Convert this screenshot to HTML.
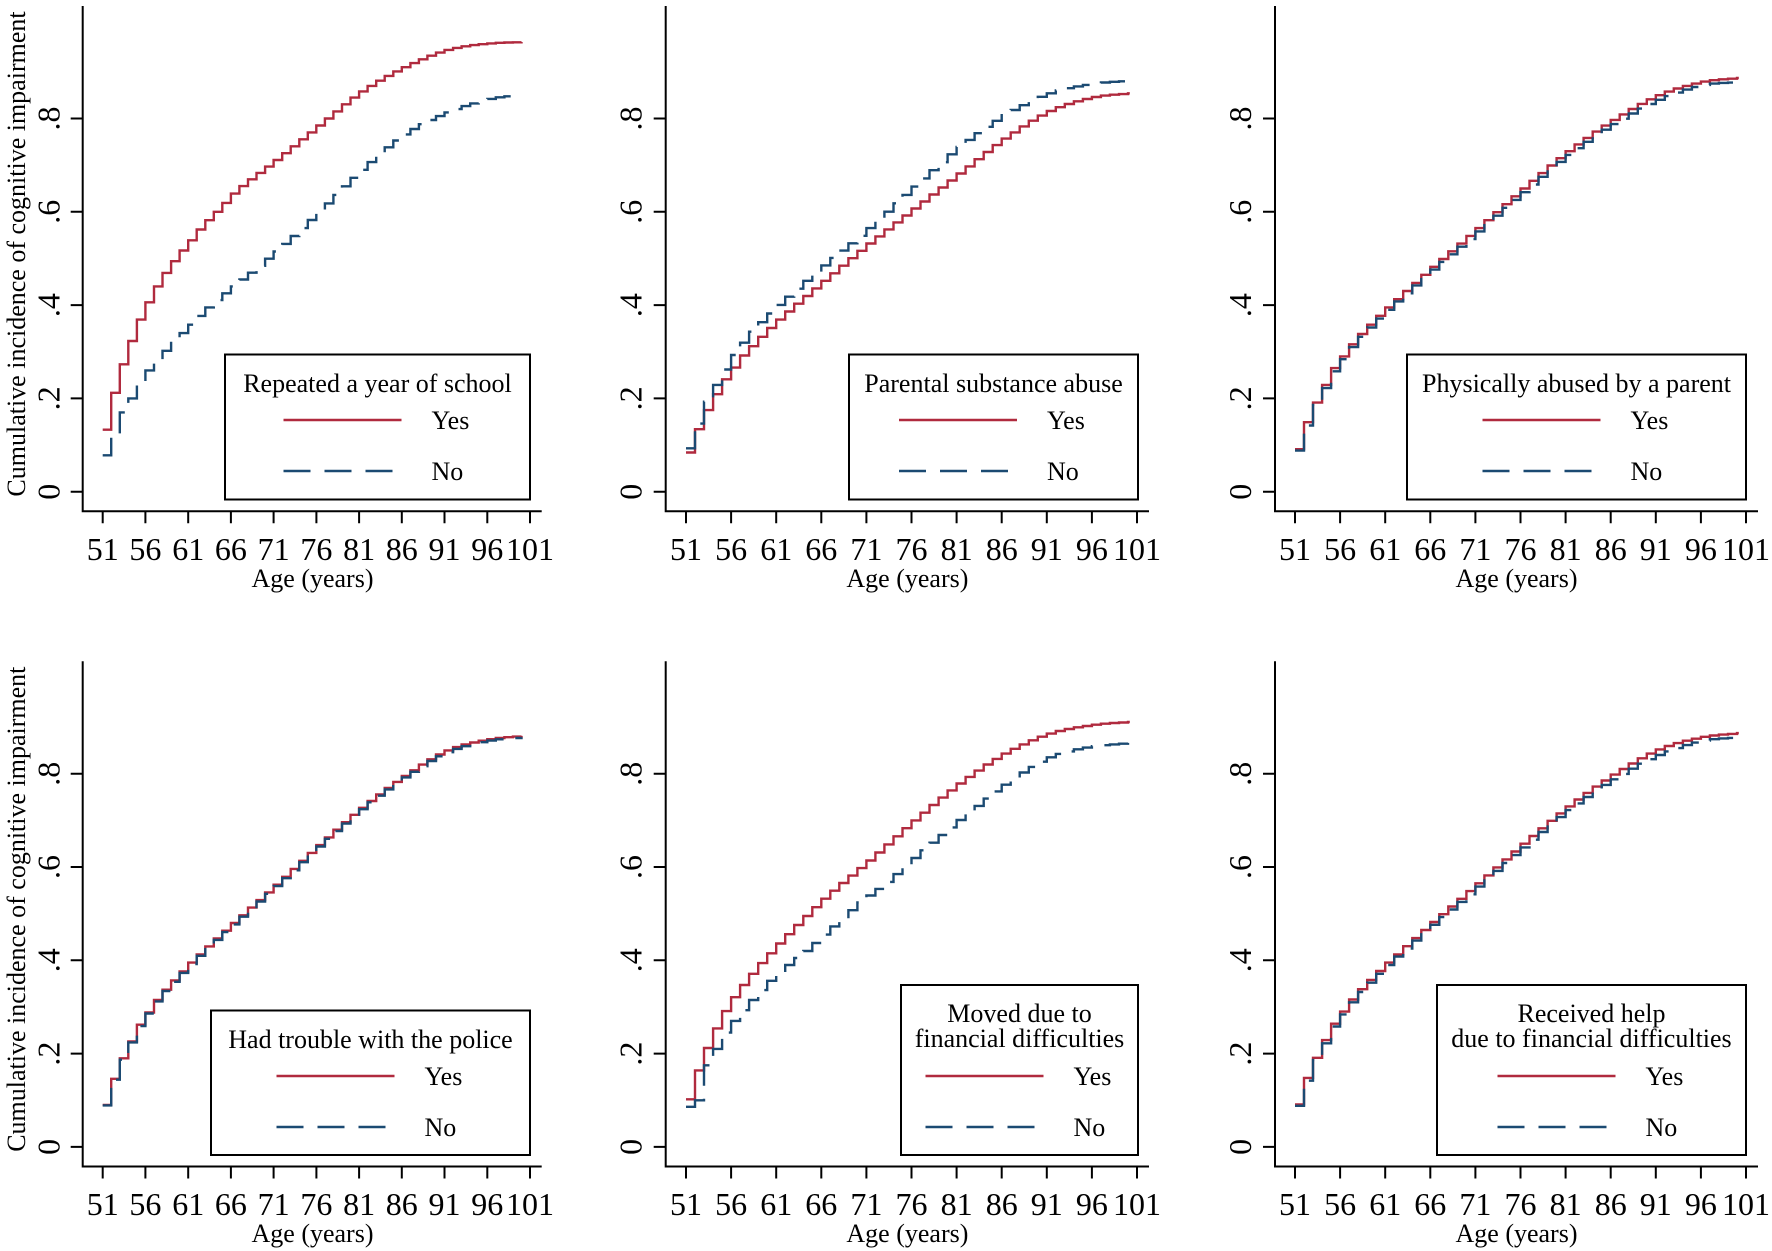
<!DOCTYPE html>
<html>
<head>
<meta charset="utf-8">
<style>
html,body{margin:0;padding:0;background:#fff;}
svg{display:block;}
text{font-family:"Liberation Serif","Times New Roman",serif;fill:#000;}
</style>
</head>
<body>
<svg id="s" width="1772" height="1251" viewBox="0 0 1772 1251" xmlns="http://www.w3.org/2000/svg">
<rect width="1772" height="1251" fill="#fff"/>

<!-- ROW 1 axes -->
<g id="row1">
<g stroke="#000" stroke-width="2" fill="none">
<path d="M82.7,6V511.3H541.7M70.7,491.7H82.7M70.7,398.4H82.7M70.7,305.1H82.7M70.7,211.8H82.7M70.7,118.5H82.7M102.7,511.3v12M145.4,511.3v12M188.2,511.3v12M230.9,511.3v12M273.6,511.3v12M316.4,511.3v12M359.1,511.3v12M401.8,511.3v12M444.5,511.3v12M487.3,511.3v12M530,511.3v12"/>
<path d="M665.7,6V511.3H1149M653.7,491.7H665.7M653.7,398.4H665.7M653.7,305.1H665.7M653.7,211.8H665.7M653.7,118.5H665.7M686,511.3v12M731.1,511.3v12M776.2,511.3v12M821.3,511.3v12M866.4,511.3v12M911.5,511.3v12M956.6,511.3v12M1001.7,511.3v12M1046.8,511.3v12M1091.9,511.3v12M1137,511.3v12"/>
<path d="M1275,6V511.3H1758M1263,491.7H1275M1263,398.4H1275M1263,305.1H1275M1263,211.8H1275M1263,118.5H1275M1295,511.3v12M1340.1,511.3v12M1385.2,511.3v12M1430.3,511.3v12M1475.4,511.3v12M1520.5,511.3v12M1565.6,511.3v12M1610.7,511.3v12M1655.8,511.3v12M1700.9,511.3v12M1746,511.3v12"/>
</g>
<g font-size="32" text-anchor="middle">
<text x="102.7" y="560">51</text><text x="145.4" y="560">56</text><text x="188.2" y="560">61</text><text x="230.9" y="560">66</text><text x="273.6" y="560">71</text><text x="316.4" y="560">76</text><text x="359.1" y="560">81</text><text x="401.8" y="560">86</text><text x="444.5" y="560">91</text><text x="487.3" y="560">96</text><text x="530" y="560">101</text>
<text x="686" y="560">51</text><text x="731.1" y="560">56</text><text x="776.2" y="560">61</text><text x="821.3" y="560">66</text><text x="866.4" y="560">71</text><text x="911.5" y="560">76</text><text x="956.6" y="560">81</text><text x="1001.7" y="560">86</text><text x="1046.8" y="560">91</text><text x="1091.9" y="560">96</text><text x="1137" y="560">101</text>
<text x="1295" y="560">51</text><text x="1340.1" y="560">56</text><text x="1385.2" y="560">61</text><text x="1430.3" y="560">66</text><text x="1475.4" y="560">71</text><text x="1520.5" y="560">76</text><text x="1565.6" y="560">81</text><text x="1610.7" y="560">86</text><text x="1655.8" y="560">91</text><text x="1700.9" y="560">96</text><text x="1746" y="560">101</text>
<text transform="translate(59.5,491.7) rotate(-90)">0</text><text transform="translate(59.5,398.4) rotate(-90)">.2</text><text transform="translate(59.5,305.1) rotate(-90)">.4</text><text transform="translate(59.5,211.8) rotate(-90)">.6</text><text transform="translate(59.5,118.5) rotate(-90)">.8</text>
<text transform="translate(641.7,491.7) rotate(-90)">0</text><text transform="translate(641.7,398.4) rotate(-90)">.2</text><text transform="translate(641.7,305.1) rotate(-90)">.4</text><text transform="translate(641.7,211.8) rotate(-90)">.6</text><text transform="translate(641.7,118.5) rotate(-90)">.8</text>
<text transform="translate(1251,491.7) rotate(-90)">0</text><text transform="translate(1251,398.4) rotate(-90)">.2</text><text transform="translate(1251,305.1) rotate(-90)">.4</text><text transform="translate(1251,211.8) rotate(-90)">.6</text><text transform="translate(1251,118.5) rotate(-90)">.8</text>
</g>
<g font-size="26" text-anchor="middle">
<text x="312.5" y="587">Age (years)</text>
<text x="907.4" y="587">Age (years)</text>
<text x="1516.5" y="587">Age (years)</text>
<text transform="translate(25,254) rotate(-90)">Cumulative incidence of cognitive impairment</text>
</g>
</g>

<!-- ROW 2 axes -->
<g transform="translate(0,655.2)">
<g stroke="#000" stroke-width="2" fill="none">
<path d="M82.7,6V511.3H541.7M70.7,491.7H82.7M70.7,398.4H82.7M70.7,305.1H82.7M70.7,211.8H82.7M70.7,118.5H82.7M102.7,511.3v12M145.4,511.3v12M188.2,511.3v12M230.9,511.3v12M273.6,511.3v12M316.4,511.3v12M359.1,511.3v12M401.8,511.3v12M444.5,511.3v12M487.3,511.3v12M530,511.3v12"/>
<path d="M665.7,6V511.3H1149M653.7,491.7H665.7M653.7,398.4H665.7M653.7,305.1H665.7M653.7,211.8H665.7M653.7,118.5H665.7M686,511.3v12M731.1,511.3v12M776.2,511.3v12M821.3,511.3v12M866.4,511.3v12M911.5,511.3v12M956.6,511.3v12M1001.7,511.3v12M1046.8,511.3v12M1091.9,511.3v12M1137,511.3v12"/>
<path d="M1275,6V511.3H1758M1263,491.7H1275M1263,398.4H1275M1263,305.1H1275M1263,211.8H1275M1263,118.5H1275M1295,511.3v12M1340.1,511.3v12M1385.2,511.3v12M1430.3,511.3v12M1475.4,511.3v12M1520.5,511.3v12M1565.6,511.3v12M1610.7,511.3v12M1655.8,511.3v12M1700.9,511.3v12M1746,511.3v12"/>
</g>
<g font-size="32" text-anchor="middle">
<text x="102.7" y="560">51</text><text x="145.4" y="560">56</text><text x="188.2" y="560">61</text><text x="230.9" y="560">66</text><text x="273.6" y="560">71</text><text x="316.4" y="560">76</text><text x="359.1" y="560">81</text><text x="401.8" y="560">86</text><text x="444.5" y="560">91</text><text x="487.3" y="560">96</text><text x="530" y="560">101</text>
<text x="686" y="560">51</text><text x="731.1" y="560">56</text><text x="776.2" y="560">61</text><text x="821.3" y="560">66</text><text x="866.4" y="560">71</text><text x="911.5" y="560">76</text><text x="956.6" y="560">81</text><text x="1001.7" y="560">86</text><text x="1046.8" y="560">91</text><text x="1091.9" y="560">96</text><text x="1137" y="560">101</text>
<text x="1295" y="560">51</text><text x="1340.1" y="560">56</text><text x="1385.2" y="560">61</text><text x="1430.3" y="560">66</text><text x="1475.4" y="560">71</text><text x="1520.5" y="560">76</text><text x="1565.6" y="560">81</text><text x="1610.7" y="560">86</text><text x="1655.8" y="560">91</text><text x="1700.9" y="560">96</text><text x="1746" y="560">101</text>
<text transform="translate(59.5,491.7) rotate(-90)">0</text><text transform="translate(59.5,398.4) rotate(-90)">.2</text><text transform="translate(59.5,305.1) rotate(-90)">.4</text><text transform="translate(59.5,211.8) rotate(-90)">.6</text><text transform="translate(59.5,118.5) rotate(-90)">.8</text>
<text transform="translate(641.7,491.7) rotate(-90)">0</text><text transform="translate(641.7,398.4) rotate(-90)">.2</text><text transform="translate(641.7,305.1) rotate(-90)">.4</text><text transform="translate(641.7,211.8) rotate(-90)">.6</text><text transform="translate(641.7,118.5) rotate(-90)">.8</text>
<text transform="translate(1251,491.7) rotate(-90)">0</text><text transform="translate(1251,398.4) rotate(-90)">.2</text><text transform="translate(1251,305.1) rotate(-90)">.4</text><text transform="translate(1251,211.8) rotate(-90)">.6</text><text transform="translate(1251,118.5) rotate(-90)">.8</text>
</g>
<g font-size="26" text-anchor="middle">
<text x="312.5" y="587">Age (years)</text>
<text x="907.4" y="587">Age (years)</text>
<text x="1516.5" y="587">Age (years)</text>
<text transform="translate(25,254) rotate(-90)">Cumulative incidence of cognitive impairment</text>
</g>
</g>

<g id="curves"></g>

<!-- LEGENDS -->
<g fill="#fff" stroke="#000" stroke-width="2">
<rect x="225" y="354.5" width="305" height="145"/>
<rect x="849" y="354.5" width="289" height="145"/>
<rect x="1407" y="354.5" width="339" height="145"/>
<rect x="211" y="1010.5" width="319" height="144.5"/>
<rect x="901" y="985" width="237" height="170"/>
<rect x="1437" y="985" width="309" height="170"/>
</g>
<g fill="none" stroke-width="2.4">
<path stroke="#b02a3e" d="M283.5,420H401.5M899,420H1017M1482.5,420H1600.5M276.5,1076H394.5M925.5,1076H1043.5M1497.5,1076H1615.5"/>
<path stroke="#1b4a72" stroke-dasharray="27 14" d="M283.5,471H392.5M899,471H1008M1482.5,471H1591.5M276.5,1127H385.5M925.5,1127H1034.5M1497.5,1127H1606.5"/>
</g>
<g font-size="26" text-anchor="middle">
<text x="377.5" y="392">Repeated a year of school</text>
<text x="993.5" y="392">Parental substance abuse</text>
<text x="1576.5" y="392">Physically abused by a parent</text>
<text x="370.5" y="1048">Had trouble with the police</text>
<text x="1019.5" y="1022">Moved due to</text>
<text x="1019.5" y="1047">financial difficulties</text>
<text x="1591.5" y="1022">Received help</text>
<text x="1591.5" y="1047">due to financial difficulties</text>
</g>
<g font-size="26">
<text x="431.5" y="429">Yes</text><text x="431.5" y="480">No</text>
<text x="1047" y="429">Yes</text><text x="1047" y="480">No</text>
<text x="1630.5" y="429">Yes</text><text x="1630.5" y="480">No</text>
<text x="424.5" y="1085">Yes</text><text x="424.5" y="1136">No</text>
<text x="1073.5" y="1085">Yes</text><text x="1073.5" y="1136">No</text>
<text x="1645.5" y="1085">Yes</text><text x="1645.5" y="1136">No</text>
</g>
</svg>
<script>
(function(){
var R="#b02a3e",B="#1b4a72",S=466.5;
function mono(xs,ys){var n=xs.length,d=[],m=[],i;
for(i=0;i<n-1;i++)d.push((ys[i+1]-ys[i])/(xs[i+1]-xs[i]));
m[0]=d[0];m[n-1]=d[n-2];
for(i=1;i<n-1;i++){m[i]=(d[i-1]*d[i]<=0)?0:(d[i-1]+d[i])/2;}
for(i=0;i<n-1;i++){if(d[i]===0){m[i]=0;m[i+1]=0;continue;}var a=m[i]/d[i],b=m[i+1]/d[i],s=a*a+b*b;if(s>9){var t=3/Math.sqrt(s);m[i]=t*a*d[i];m[i+1]=t*b*d[i];}}
return function(x){var k=0;while(k<n-2&&x>xs[k+1])k++;var h=xs[k+1]-xs[k],t=(x-xs[k])/h,t2=t*t,t3=t2*t;
return (2*t3-3*t2+1)*ys[k]+(t3-2*t2+t)*h*m[k]+(-2*t3+3*t2)*ys[k+1]+(t3-t2)*h*m[k+1];};}
var G=[51,52,53,54,55,56,57,58,59,60,61,66,71,76,81,86,91,96,100];
var z1=491.7,z2=1146.9;
var P=[
[102.7,8.546,z1,[
 [R,0,100,[51,52,53,54,55,56,57,58,59,60,61,62,63,64,65,66,71,76,81,86,91,96,100],[.133,.212,.273,.323,.369,.406,.44,.469,.494,.517,.539,.562,.582,.60,.619,.639,.711,.785,.858,.91,.947,.961,.964]],
 [B,1,98.9,[51,52,53,54,55,56,57,58,59,60,61,63,66,71,76,81,86,91,96,99],[.078,.12,.17,.20,.234,.26,.282,.302,.322,.34,.358,.395,.44,.515,.60,.69,.766,.813,.842,.85]]]],
[686,9.02,z1,[
 [R,0,100.2,[51,52,53,54,55,56,57,58,59,61,66,71,76,81,86,91,96,100],[.084,.134,.175,.209,.241,.266,.292,.312,.332,.369,.452,.532,.607,.682,.757,.816,.846,.854]],
 [B,1,99.7,[51,52,53,54,55,56,58,60,62,66,71,76,81,86,91,96,100],[.093,.146,.193,.229,.262,.293,.343,.382,.418,.485,.565,.654,.739,.807,.854,.875,.881]]]],
[1295,9.02,z1,[
 [R,0,100.2,G,[.091,.149,.191,.229,.265,.29,.316,.338,.358,.377,.395,.482,.565,.65,.73,.797,.85,.879,.887]],
 [B,1,100,G,[.088,.142,.186,.222,.258,.284,.31,.332,.352,.371,.39,.476,.558,.642,.722,.788,.84,.872,.878]]]],
[102.7,8.546,z2,[
 [R,0,100,G,[.09,.146,.19,.226,.262,.288,.315,.337,.357,.376,.395,.48,.562,.647,.727,.795,.85,.874,.881]],
 [B,1,100,G,[.089,.144,.187,.224,.259,.286,.312,.334,.354,.373,.392,.477,.559,.644,.724,.792,.846,.871,.878]]]],
[686,9.02,z2,[
 [R,0,100.2,G,[.102,.164,.212,.254,.291,.321,.347,.371,.394,.415,.436,.532,.614,.70,.779,.843,.886,.905,.911]],
 [B,1,100,[51,52,53,54,55,56,58,60,62,64,66,68,70,73,75.5,78,80.5,83,85.4,88.2,91.1,95,100],[.086,.10,.175,.21,.245,.27,.315,.356,.39,.42,.455,.49,.524,.568,.611,.652,.693,.731,.768,.805,.836,.856,.866]]]],
[1295,9.02,z2,[
 [R,0,100.2,G,[.091,.148,.191,.229,.264,.29,.316,.338,.358,.377,.395,.482,.565,.65,.73,.798,.852,.879,.887]],
 [B,1,100,G,[.088,.142,.186,.222,.258,.284,.31,.332,.352,.371,.39,.476,.558,.642,.722,.788,.84,.871,.878]]]]
];
var g=document.getElementById('curves'),NS='http://www.w3.org/2000/svg';
P.forEach(function(p){var x0=p[0],sx=p[1],z=p[2];
 p[3].forEach(function(c){var f=mono(c[3],c[4]);
  function X(a){return (x0+sx*(a-51)).toFixed(1);}
  function Y(a){return (z-S*f(a)).toFixed(1);}
  var d='M'+X(51)+','+Y(51);
  for(var a=52;a<=Math.floor(c[2]);a++){d+='H'+X(a)+'V'+Y(a);}
  d+='H'+X(c[2]);
  var e=document.createElementNS(NS,'path');
  e.setAttribute('d',d);e.setAttribute('fill','none');e.setAttribute('stroke',c[0]);
  e.setAttribute('stroke-width','2.4');
  if(c[1])e.setAttribute('stroke-dasharray','26 13');
  g.appendChild(e);
 });
});
})();
</script>
</body>
</html>
